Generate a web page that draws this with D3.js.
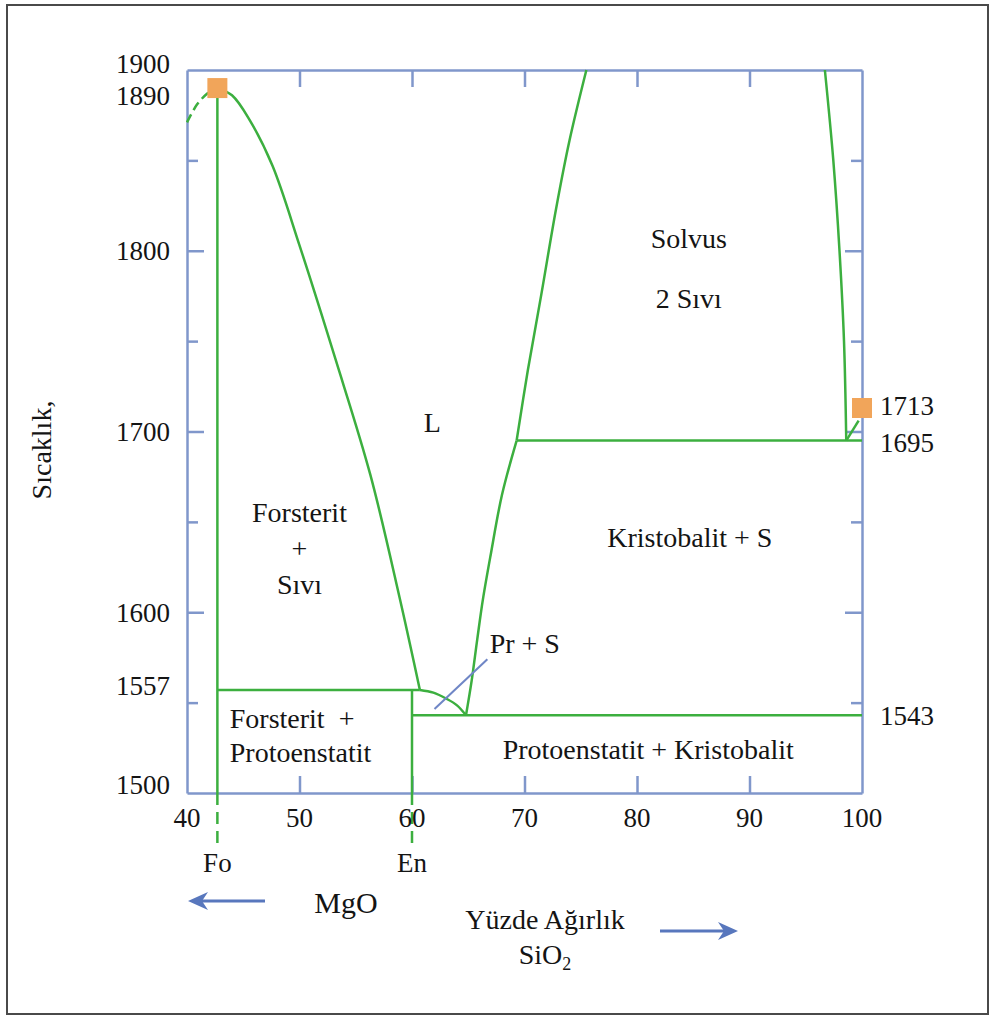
<!DOCTYPE html>
<html>
<head>
<meta charset="utf-8">
<script src="https://cdn.jsdelivr.net/npm/d3@7"></script>
<style>
  html,body{margin:0;padding:0;background:#fff}
  svg{display:block}
  text{font-family:"Liberation Serif","Times New Roman",Times,serif;fill:#141414}
</style>
</head>
<body>
<svg id="chart" width="995" height="1018"></svg>
<script>
// axis ticks
const xTicks = [40, 50, 60, 70, 80, 90, 100];
const yMajor = [1600, 1700, 1800];
const yMinor = [1550, 1650, 1750, 1850];
const leftLabels = [1900, 1890, 1800, 1700, 1600, 1557, 1500];
const rightLabels = [1713, 1695, 1543];

// phase boundaries, [wt% SiO2, temperature]
const liqDashed = [[40, 1871], [40.9, 1881], [41.8, 1887], [42.4, 1889.5]];
const liqForsterit = [[42.7, 1890], [44.0, 1886], [45.6, 1872], [47.6, 1847], [50.0, 1803],
  [53.2, 1740], [56.3, 1676], [58.9, 1608], [60.7, 1557]];
const liqProto = [[60.7, 1557], [61.9, 1555.5], [63.1, 1552], [64.0, 1548.5], [64.8, 1543]];
const liqKristobalit = [[64.8, 1543], [65.3, 1562], [65.8, 1585], [66.3, 1607], [67.0, 1632],
  [68.0, 1665], [69.3, 1695]];
const solvusLeft = [[69.3, 1695], [70.3, 1734], [71.5, 1776], [72.8, 1823], [74.0, 1861], [75.5, 1900]];
const solvusRight = [[96.7, 1900], [97.45, 1850], [98.0, 1800], [98.4, 1750], [98.6, 1695]];
const liqSilica = [[98.6, 1695], [99.7, 1706]];
const isotherms = [
  [[42.7, 1557], [60.7, 1557]],
  [[60, 1543], [100, 1543]],
  [[69.3, 1695], [100, 1695]],
];
const verticals = [
  [[42.7, 1890], [42.7, 1500]],
  [[60, 1557], [60, 1500]],
];
const belowAxis = [
  [[42.7, 1500], [42.7, 1472]],
  [[60, 1500], [60, 1472]],
];
const meltPoints = [[42.7, 1890], [100, 1713]];
const prPointer = [[62.0, 1546.5], [66.7, 1574]];

// region names: [text, wt%, temperature]
const regions = [
  ['Solvus', 84.6, 1807],
  ['2 Sıvı', 84.6, 1774],
  ['L', 61.8, 1705],
  ['Forsterit', 50.0, 1655.5],
  ['+', 50.0, 1635.5],
  ['Sıvı', 50.0, 1615.5],
  ['Kristobalit + S', 84.7, 1641.5],
  ['Protoenstatit + Kristobalit', 81.0, 1524],
];

const green = '#3caf3f', frame = '#8097cb', arrowBlue = '#5877bd';

const svg = d3.select('#chart');
const x = d3.scaleLinear().domain([40, 100]).range([187, 862]);
const y = d3.scaleLinear().domain([1500, 1900]).range([793, 70]);

// outer border
svg.append('rect').attr('x', 7).attr('y', 5).attr('width', 981).attr('height', 1009)
  .attr('fill', 'none').attr('stroke', '#4a4a4a').attr('stroke-width', 2);

// frame + inward ticks
const inner = xTicks.slice(1, -1);
svg.append('g').attr('transform', `translate(0,${y(1900)})`)
  .call(d3.axisTop(x).tickValues(inner).tickSize(-17).tickSizeOuter(0).tickFormat(''));
svg.append('g').attr('transform', `translate(0,${y(1500)})`)
  .call(d3.axisBottom(x).tickValues(inner).tickSize(-17).tickSizeOuter(0).tickFormat(''));
[[x(40), d3.axisLeft], [x(100), d3.axisRight]].forEach(([px, ax]) => {
  svg.append('g').attr('transform', `translate(${px},0)`)
    .call(ax(y).tickValues(yMajor).tickSize(-17).tickSizeOuter(0).tickFormat(''));
  svg.append('g').attr('transform', `translate(${px},0)`)
    .call(ax(y).tickValues(yMinor).tickSize(-11).tickSizeOuter(0).tickFormat(''))
    .select('.domain').remove();
});
svg.selectAll('.domain, .tick line').attr('stroke', frame).attr('stroke-width', 2.5);

const line = d3.line().x(d => x(d[0])).y(d => y(d[1]));
const curve = d3.line().x(d => x(d[0])).y(d => y(d[1])).curve(d3.curveCatmullRom.alpha(0.5));

const g = svg.append('g').attr('fill', 'none').attr('stroke', green).attr('stroke-width', 2.5);
g.append('path').attr('d', curve(liqDashed)).attr('stroke-dasharray', '9,5');
[liqForsterit, liqProto, liqKristobalit, solvusLeft, solvusRight].forEach(d => g.append('path').attr('d', curve(d)));
[liqSilica, ...isotherms, ...verticals].forEach(d => g.append('path').attr('d', line(d)));
belowAxis.forEach(d => g.append('path').attr('d', line(d)).attr('stroke-dasharray', '12,7'));

svg.append('path').attr('d', line(prPointer)).attr('stroke', '#6f86c6').attr('stroke-width', 2);

svg.selectAll('rect.mp').data(meltPoints).enter().append('rect').attr('class', 'mp')
  .attr('x', d => x(d[0]) - 10).attr('y', d => y(d[1]) - 10)
  .attr('width', 20).attr('height', 20).attr('fill', '#f1a55a');

// tick labels
const fs = 27;
const nudge = { 1900: -6, 1890: 7, 1557: -4, 1500: -8, 1713: -2, 1695: 2 };
svg.selectAll('text.yl').data(leftLabels).enter().append('text')
  .attr('x', 170).attr('y', d => y(d) + (nudge[d] || 0)).attr('dy', '0.35em')
  .attr('text-anchor', 'end').style('font-size', fs + 'px').text(d => d);
svg.selectAll('text.yr').data(rightLabels).enter().append('text')
  .attr('x', 880).attr('y', d => y(d) + (nudge[d] || 0)).attr('dy', '0.35em')
  .style('font-size', fs + 'px').text(d => d);
svg.selectAll('text.xl').data(xTicks).enter().append('text')
  .attr('x', d => x(d)).attr('y', y(1500) + 34)
  .attr('text-anchor', 'middle').style('font-size', fs + 'px').text(d => d);
svg.selectAll('text.cmp').data([['Fo', 42.7], ['En', 60]]).enter().append('text')
  .attr('x', d => x(d[1])).attr('y', 872)
  .attr('text-anchor', 'middle').style('font-size', fs + 'px').text(d => d[0]);

// region labels
const rs = '28px';
svg.selectAll('text.rg').data(regions).enter().append('text')
  .attr('x', d => x(d[1])).attr('y', d => y(d[2])).attr('dy', '0.35em')
  .attr('text-anchor', 'middle').style('font-size', rs).text(d => d[0]);
svg.append('text').attr('x', x(43.8)).attr('y', y(1541.5)).attr('dy', '0.35em')
  .style('font-size', rs).attr('xml:space', 'preserve').text('Forsterit  +');
svg.append('text').attr('x', x(43.8)).attr('y', y(1522.7)).attr('dy', '0.35em')
  .style('font-size', rs).text('Protoenstatit');
svg.append('text').attr('x', x(66.9)).attr('y', y(1583)).attr('dy', '0.35em')
  .style('font-size', rs).text('Pr + S');

// axis titles
svg.append('text').attr('transform', 'translate(51,450) rotate(-90)')
  .attr('text-anchor', 'middle').style('font-size', '28px').text('Sıcaklık,');
svg.append('text').attr('x', 346).attr('y', 913).attr('text-anchor', 'middle')
  .style('font-size', '30px').text('MgO');
svg.append('text').attr('x', 545).attr('y', 929).attr('text-anchor', 'middle')
  .style('font-size', '28px').text('Yüzde Ağırlık');
const si = svg.append('text').attr('x', 545).attr('y', 964).attr('text-anchor', 'middle')
  .style('font-size', '28px');
si.append('tspan').text('SiO');
si.append('tspan').attr('dy', 6).style('font-size', '18px').text('2');

// composition arrows
const arrows = [[265, 188, 901], [660, 738, 931]];
arrows.forEach(([x1, x2, yy]) => {
  const dir = Math.sign(x2 - x1);
  svg.append('line').attr('x1', x1).attr('x2', x2 - dir * 8).attr('y1', yy).attr('y2', yy)
    .attr('stroke', arrowBlue).attr('stroke-width', 3);
  svg.append('path')
    .attr('d', `M${x2},${yy} L${x2 - dir * 20},${yy - 9} L${x2 - dir * 14},${yy} L${x2 - dir * 20},${yy + 9} Z`)
    .attr('fill', arrowBlue);
});
</script>
</body>
</html>
